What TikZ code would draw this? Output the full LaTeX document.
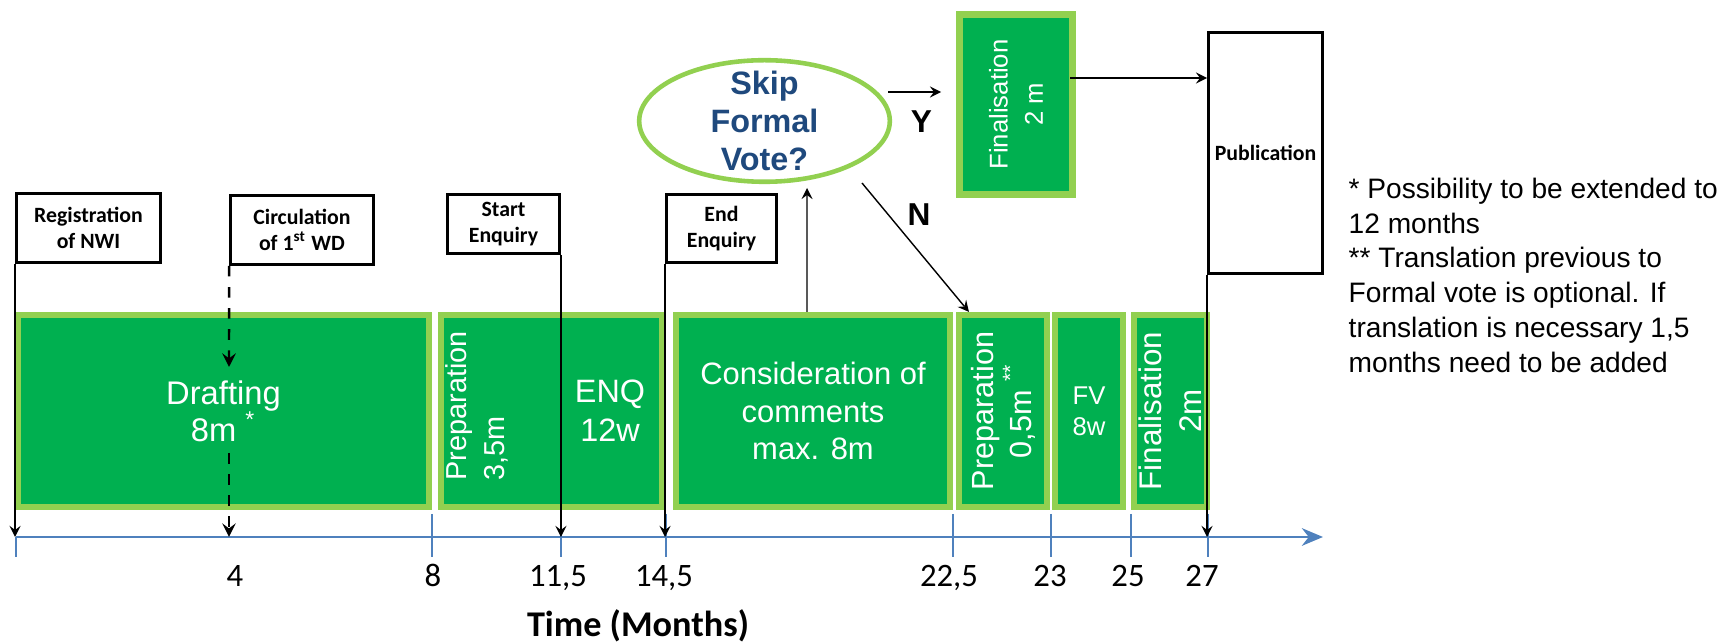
\documentclass[tikz,border=0pt]{standalone}
\usepackage{fontspec}
\setmainfont{Liberation Sans}
\newfontfamily\cali{Carlito}
\usepackage{tikz}
\usetikzlibrary{arrows, shapes, shapes.geometric, positioning, arrows.meta, calc}
\definecolor{dgreen}{RGB}{0,176,80}
\definecolor{lgreen}{RGB}{146,208,80}
\definecolor{navy}{RGB}{31,73,125}
\definecolor{axisblue}{RGB}{79,129,189}
\tikzstyle{phase} = [rectangle, draw=lgreen, fill=dgreen, line width=1.8pt, text=white, align=center, minimum height=1.917cm]
\tikzstyle{event} = [rectangle, draw, fill=white, line width=0.8pt, align=center, inner sep=1pt, font=\cali\bfseries\fontsize{6.2}{7.2}\selectfont]
\tikzstyle{decision} = [ellipse, draw=lgreen, fill=white, line width=1.3pt, minimum width=2.505cm, minimum height=1.215cm, inner sep=0pt]
\tikzstyle{arrow} = [->, >=stealth, line width=0.4pt]

\begin{document}
\begin{tikzpicture}[x=0.01cm, y=-0.01cm]
  % Define text styles
  \tikzstyle{phasetxt} = [text=white, align=center, inner sep=0pt]
  \tikzstyle{ticklbl} = [anchor=base, font=\cali\fontsize{9.3}{11}\selectfont]
  \useasboundingbox (0,0) rectangle (1729,643);

  % Points on the time axis
  \coordinate (a0) at (16,537);
  \coordinate (aend) at (1323,537);
  \coordinate (wd1) at (229,367);
  \coordinate (wd2) at (229,453);

  % Time axis with ticks and labels
  \draw [axisblue, line width=0.4pt] (16,537) -- (16,557);
  \foreach \x in {432, 561, 666, 953, 1051, 1131, 1208}
    \draw [axisblue, line width=0.4pt] (\x,514) -- (\x,557);
  \draw [axisblue, line width=0.85pt, -{Stealth[length=6pt, width=5pt]}] (a0) -- (aend);
  \foreach \x/\lab in {235/4, 433/8, 558/{11,5}, 664/{14,5}, 949/{22,5}, 1050/23, 1128/25, 1202/27}
    \node [ticklbl] (lab\x) at (\x,587) {\lab};
  \node [anchor=base, font=\cali\bfseries\fontsize{10.3}{12}\selectfont] (time) at (638,637) {Time (Months)};

  % Phases of the timeline
  \node [phase, minimum width=4.107cm, font=\fontsize{9.3}{10.6}\selectfont] (draft) at (223.5,411) {Drafting\\8m \textsuperscript{*}};
  \node [phase, minimum width=2.207cm] (enq) at (551.5,411) {};
  \node [phase, minimum width=2.737cm, font=\fontsize{8.8}{10.7}\selectfont] (cons) at (813,411) {Consideration of\\comments\\max. 8m};
  \node [phase, minimum width=0.877cm] (prep) at (1003,411) {};
  \node [phase, minimum width=0.677cm, font=\fontsize{7.3}{8.8}\selectfont] (fv) at (1089,411) {FV\\8w};
  \node [phase, minimum width=0.727cm] (fin) at (1170.5,411) {};
  \node [phase, line width=2.1pt, minimum width=1.125cm, minimum height=1.795cm] (fintop) at (1016,104.5) {};

  % Texts inside the phases
  \node [phasetxt, rotate=90, anchor=west, align=left, font=\fontsize{8.2}{11}\selectfont] (preptxt) at (477,481) {Preparation\\3,5m};
  \node [phasetxt, font=\fontsize{9.2}{11}\selectfont] (enqtxt) at (610,411) {ENQ\\12w};
  \node [phasetxt, rotate=90, font=\fontsize{8.7}{9.7}\selectfont] (prep2txt) at (prep) {Preparation\\0,5m \textsuperscript{**}};
  \node [phasetxt, rotate=90, font=\fontsize{8.9}{11.4}\selectfont] (fintxt) at (fin) {Finalisation\\2m};
  \node [phasetxt, rotate=90, font=\fontsize{7.3}{10}\selectfont] (fintoptxt) at (fintop) {Finalisation\\2 m};

  % Milestones
  \node [event, minimum width=1.44cm, minimum height=0.69cm] (reg) at (88.5,228) {Registration\\of NWI};
  \node [event, minimum width=1.43cm, minimum height=0.69cm] (circ) at (302,230) {Circulation\\of 1\textsuperscript{st} WD};
  \node [event, minimum width=1.12cm, minimum height=0.59cm] (start) at (503.5,224) {Start\\Enquiry};
  \node [event, minimum width=1.10cm, minimum height=0.68cm] (endq) at (721.5,228.5) {End\\Enquiry};
  \node [event, minimum width=1.14cm, minimum height=2.41cm] (pub) at (1265.5,153) {Publication};

  % Decision
  \node [decision, label={[navy, font=\bfseries\fontsize{9.2}{10.9}\selectfont, align=center]center:{Skip\\Formal\\Vote?}}] (skip) at (764.5,121) {};
  \node [font=\bfseries\fontsize{9}{11}\selectfont] (ylab) at (921.5,122) {Y};
  \node [font=\bfseries\fontsize{9}{11}\selectfont] (nlab) at (919,215) {N};

  % Milestone arrows down to the axis
  \draw [arrow] (reg.south west) -- (reg.south west |- a0);
  \draw [arrow, dashed, line width=0.7pt] (circ.south west) -- (wd1);
  \draw [arrow, dashed, line width=0.7pt] (wd2) -- (wd2 |- a0);
  \draw [arrow] (start.south east) -- (start.south east |- a0);
  \draw [arrow] (endq.south west) -- (endq.south west |- a0);
  \draw [arrow] (pub.south west) -- (pub.south west |- a0);

  % Decision arrows
  \draw [arrow] ([xshift=-0.06cm]cons.north) -- ([shift={(42.5,67)}]skip.center);
  \draw [arrow] ([shift={(123.5,-29)}]skip.center) -- ([shift={(-15,-12.5)}]fintop.west);
  \draw [arrow] ([shift={(97.5,62)}]skip.center) -- ([xshift=0.13cm]prep.north west);
  \draw [arrow] ([shift={(54,-26.5)}]fintop.center) -- ([shift={(0,-75)}]pub.west);

  % Footnotes
  \node [anchor=north west, align=left, inner sep=0pt, font=\fontsize{8}{9.93}\selectfont] (note) at (1348,177) {* Possibility to be extended to\\12 months\\** Translation previous to\\Formal vote is optional. If\\translation is necessary 1,5\\months need to be added};
\end{tikzpicture}
\end{document}
